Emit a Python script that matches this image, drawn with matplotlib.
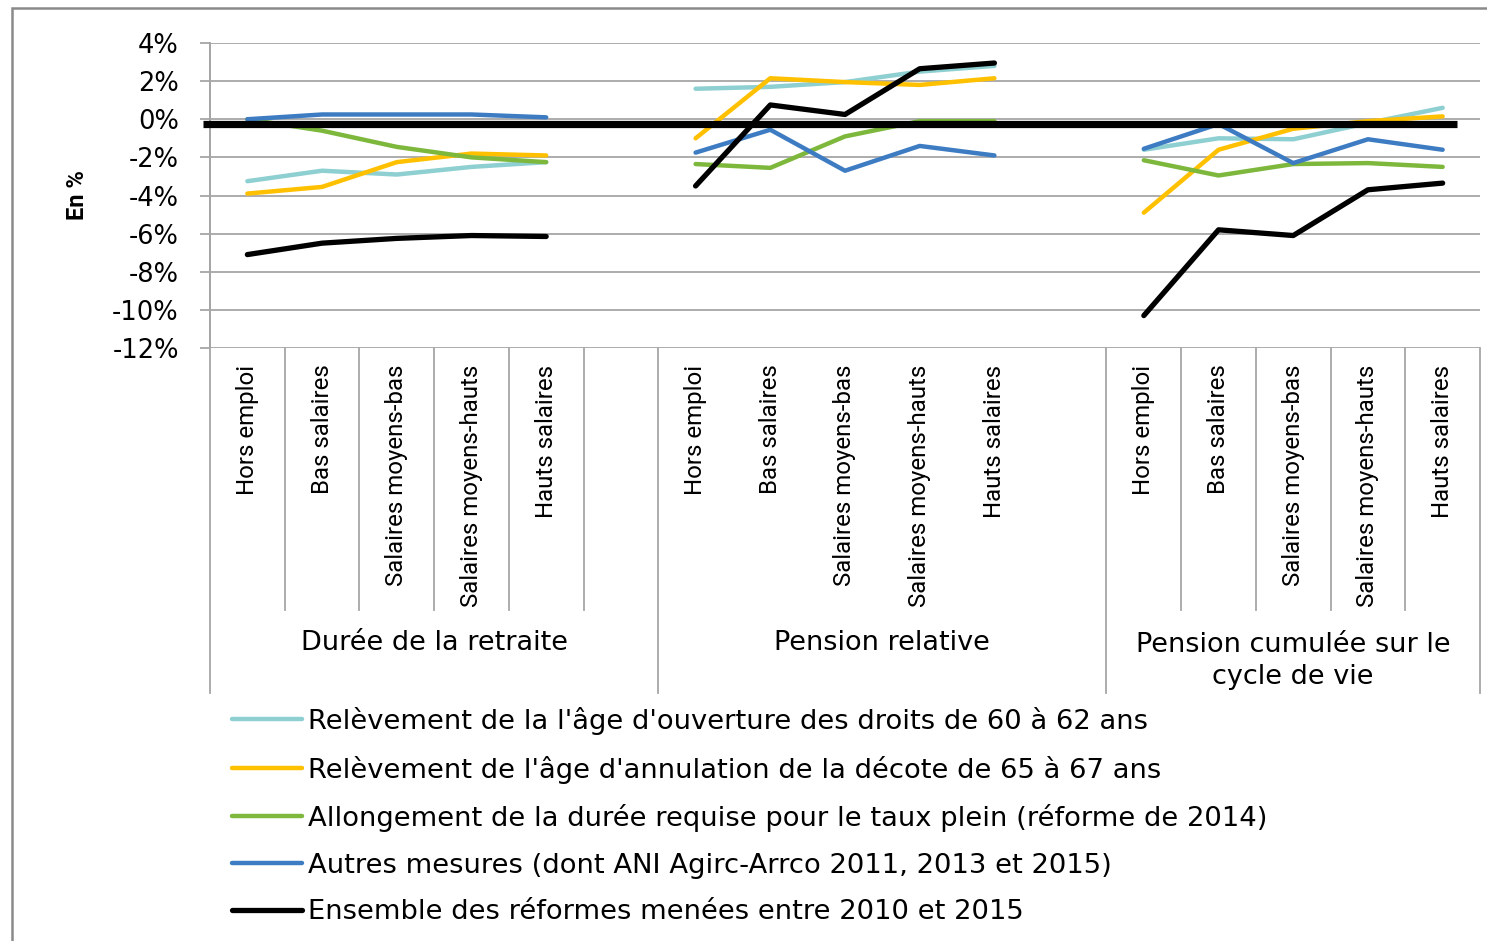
import numpy as np
import matplotlib
matplotlib.use("Agg")
import matplotlib.pyplot as plt
from matplotlib.patches import Rectangle

# ---------------- data ----------------
categories = ["Hors emploi", "Bas salaires", "Salaires moyens-bas",
              "Salaires moyens-hauts", "Hauts salaires"]
groups = ["Durée de la retraite", "Pension relative",
          "Pension cumulée sur le\ncycle de vie"]
series_labels = [
    "Relèvement de la l'âge d'ouverture des droits de 60 à 62 ans",
    "Relèvement de l'âge d'annulation de la décote de 65 à 67 ans",
    "Allongement de la durée requise pour le taux plein (réforme de 2014)",
    "Autres mesures (dont ANI Agirc-Arrco 2011, 2013 et 2015)",
    "Ensemble des réformes menées entre 2010 et 2015",
]
# values in %, 3 groups x 5 categories
ouverture = [-3.25, -2.7, -2.9, -2.5, -2.25,
             1.6, 1.7, 1.95, 2.5, 2.8,
             -1.6, -1.0, -1.05, -0.2, 0.6]
decote = [-3.9, -3.55, -2.25, -1.8, -1.9,
          -1.0, 2.15, 1.95, 1.8, 2.15,
          -4.9, -1.6, -0.5, -0.1, 0.15]
duree = [0.0, -0.6, -1.45, -2.0, -2.25,
         -2.35, -2.55, -0.9, -0.1, -0.1,
         -2.15, -2.95, -2.35, -2.3, -2.5]
autres = [0.0, 0.25, 0.25, 0.25, 0.1,
          -1.75, -0.55, -2.7, -1.4, -1.9,
          -1.55, -0.25, -2.3, -1.05, -1.6]
ensemble = [-7.1, -6.5, -6.25, -6.1, -6.15,
            -3.5, 0.75, 0.25, 2.65, 2.95,
            -10.3, -5.8, -6.1, -3.7, -3.35]
yticks = [4, 2, 0, -2, -4, -6, -8, -10, -12]
ref_level = -0.26

colors = ["#8ECFD1", "#FFC000", "#7DB83C", "#3D7CC2", "#000000"]
widths = [3.2, 3.2, 3.2, 3.2, 3.8]

# slot layout: 5 cats + gap, 5 cats + gap, 5 cats  (17 slots)
def to_slots(vals):
    out = []
    for g in range(3):
        out += list(vals[g * 5:(g + 1) * 5])
        if g < 2:
            out.append(np.nan)
    return np.array(out, dtype=float)

x = np.arange(17)

W, H = 1487, 941
fig = plt.figure(figsize=(W / 100, H / 100), dpi=100)
fig.patch.set_facecolor("white")

# outer frame (left and top edges visible)
fig.add_artist(Rectangle((12 / W, -0.05), 1.1, 1 - 8 / H + 0.05,
                         transform=fig.transFigure, fill=False,
                         edgecolor="#8a8a8a", linewidth=1.8))

ax = fig.add_axes([210 / W, 1 - 348 / H, 1270 / W, 305 / H])
ax.set_xlim(-0.5, 16.5)
ax.set_ylim(-12, 4)

grid_c = "#a6a6a6"
ax.set_yticks(yticks)
ax.set_yticklabels([f"{v}%" for v in yticks], fontsize=18.5, family="DejaVu Sans")
ax.yaxis.grid(True, color=grid_c, linewidth=1.3)
ax.tick_params(axis="y", length=7.5, color=grid_c, width=1.3, pad=15)
for s in ["top", "right", "bottom"]:
    ax.spines[s].set_visible(False)
ax.spines["left"].set_color(grid_c)
ax.spines["left"].set_linewidth(1.3)
ax.set_axisbelow(True)

series = [ouverture, decote, duree, autres, ensemble]
handles = []
for vals, c, lw, lab in zip(series, colors, widths, series_labels):
    h, = ax.plot(x, to_slots(vals), color=c, linewidth=lw,
                 solid_capstyle="round", solid_joinstyle="round", label=lab, zorder=3)
    handles.append(h)

# thick reference line
ax.plot([-0.594, 16.19], [ref_level, ref_level], color="black",
        linewidth=5.2, clip_on=False, zorder=4, solid_capstyle="butt")

# category tick labels
tick_pos = [i for i in range(17) if i not in (5, 11)]
ax.set_xticks(tick_pos)
ax.set_xticklabels(categories * 3, rotation=90, va="top", ha="center",
                   fontsize=17.3, family="Roboto")
ax.tick_params(axis="x", length=0, pad=12)

# category-axis separators
tx = ax.get_xaxis_transform()
short_y = -(610 - 348) / 305
long_y = -(693 - 348) / 305
for b in [0.5, 1.5, 2.5, 3.5, 4.5, 12.5, 13.5, 14.5, 15.5]:
    ax.plot([b, b], [0, short_y], transform=tx, color=grid_c,
            linewidth=1.3, clip_on=False)
for b in [-0.5, 5.5, 11.5, 16.5]:
    ax.plot([b, b], [0, long_y], transform=tx, color=grid_c,
            linewidth=1.3, clip_on=False)
ax.plot([-0.5, -0.5], [0, 1], transform=tx, color=grid_c, linewidth=1.3,
        clip_on=False)

# group labels
group_centers = [2.5, 8.5, 14.0]
for gc, gl in zip(group_centers, groups):
    if "\n" in gl:
        ax.text(gc, -(632 - 348) / 305, gl, transform=tx, ha="center", va="top",
                fontsize=19.5, family="DejaVu Sans", linespacing=1.3)
    else:
        ax.text(gc, -(643 - 348) / 305, gl, transform=tx, ha="center", va="center",
                fontsize=19.5, family="DejaVu Sans")

# y label
fig.text(77 / W, 1 - 195 / H, "En %", rotation=90, ha="center", va="center",
         fontsize=17, fontweight="bold", family="Roboto")

# legend
leg = fig.legend(handles=handles, labels=series_labels, loc="upper left",
                 bbox_to_anchor=(232 / W, 1 - 707 / H), frameon=False,
                 handlelength=2.55, handletextpad=0.22,
                 labelspacing=0.75, borderaxespad=0, borderpad=0,
                 prop={"family": "DejaVu Sans", "size": 19.7})

fig.savefig("out.png", dpi=100)
